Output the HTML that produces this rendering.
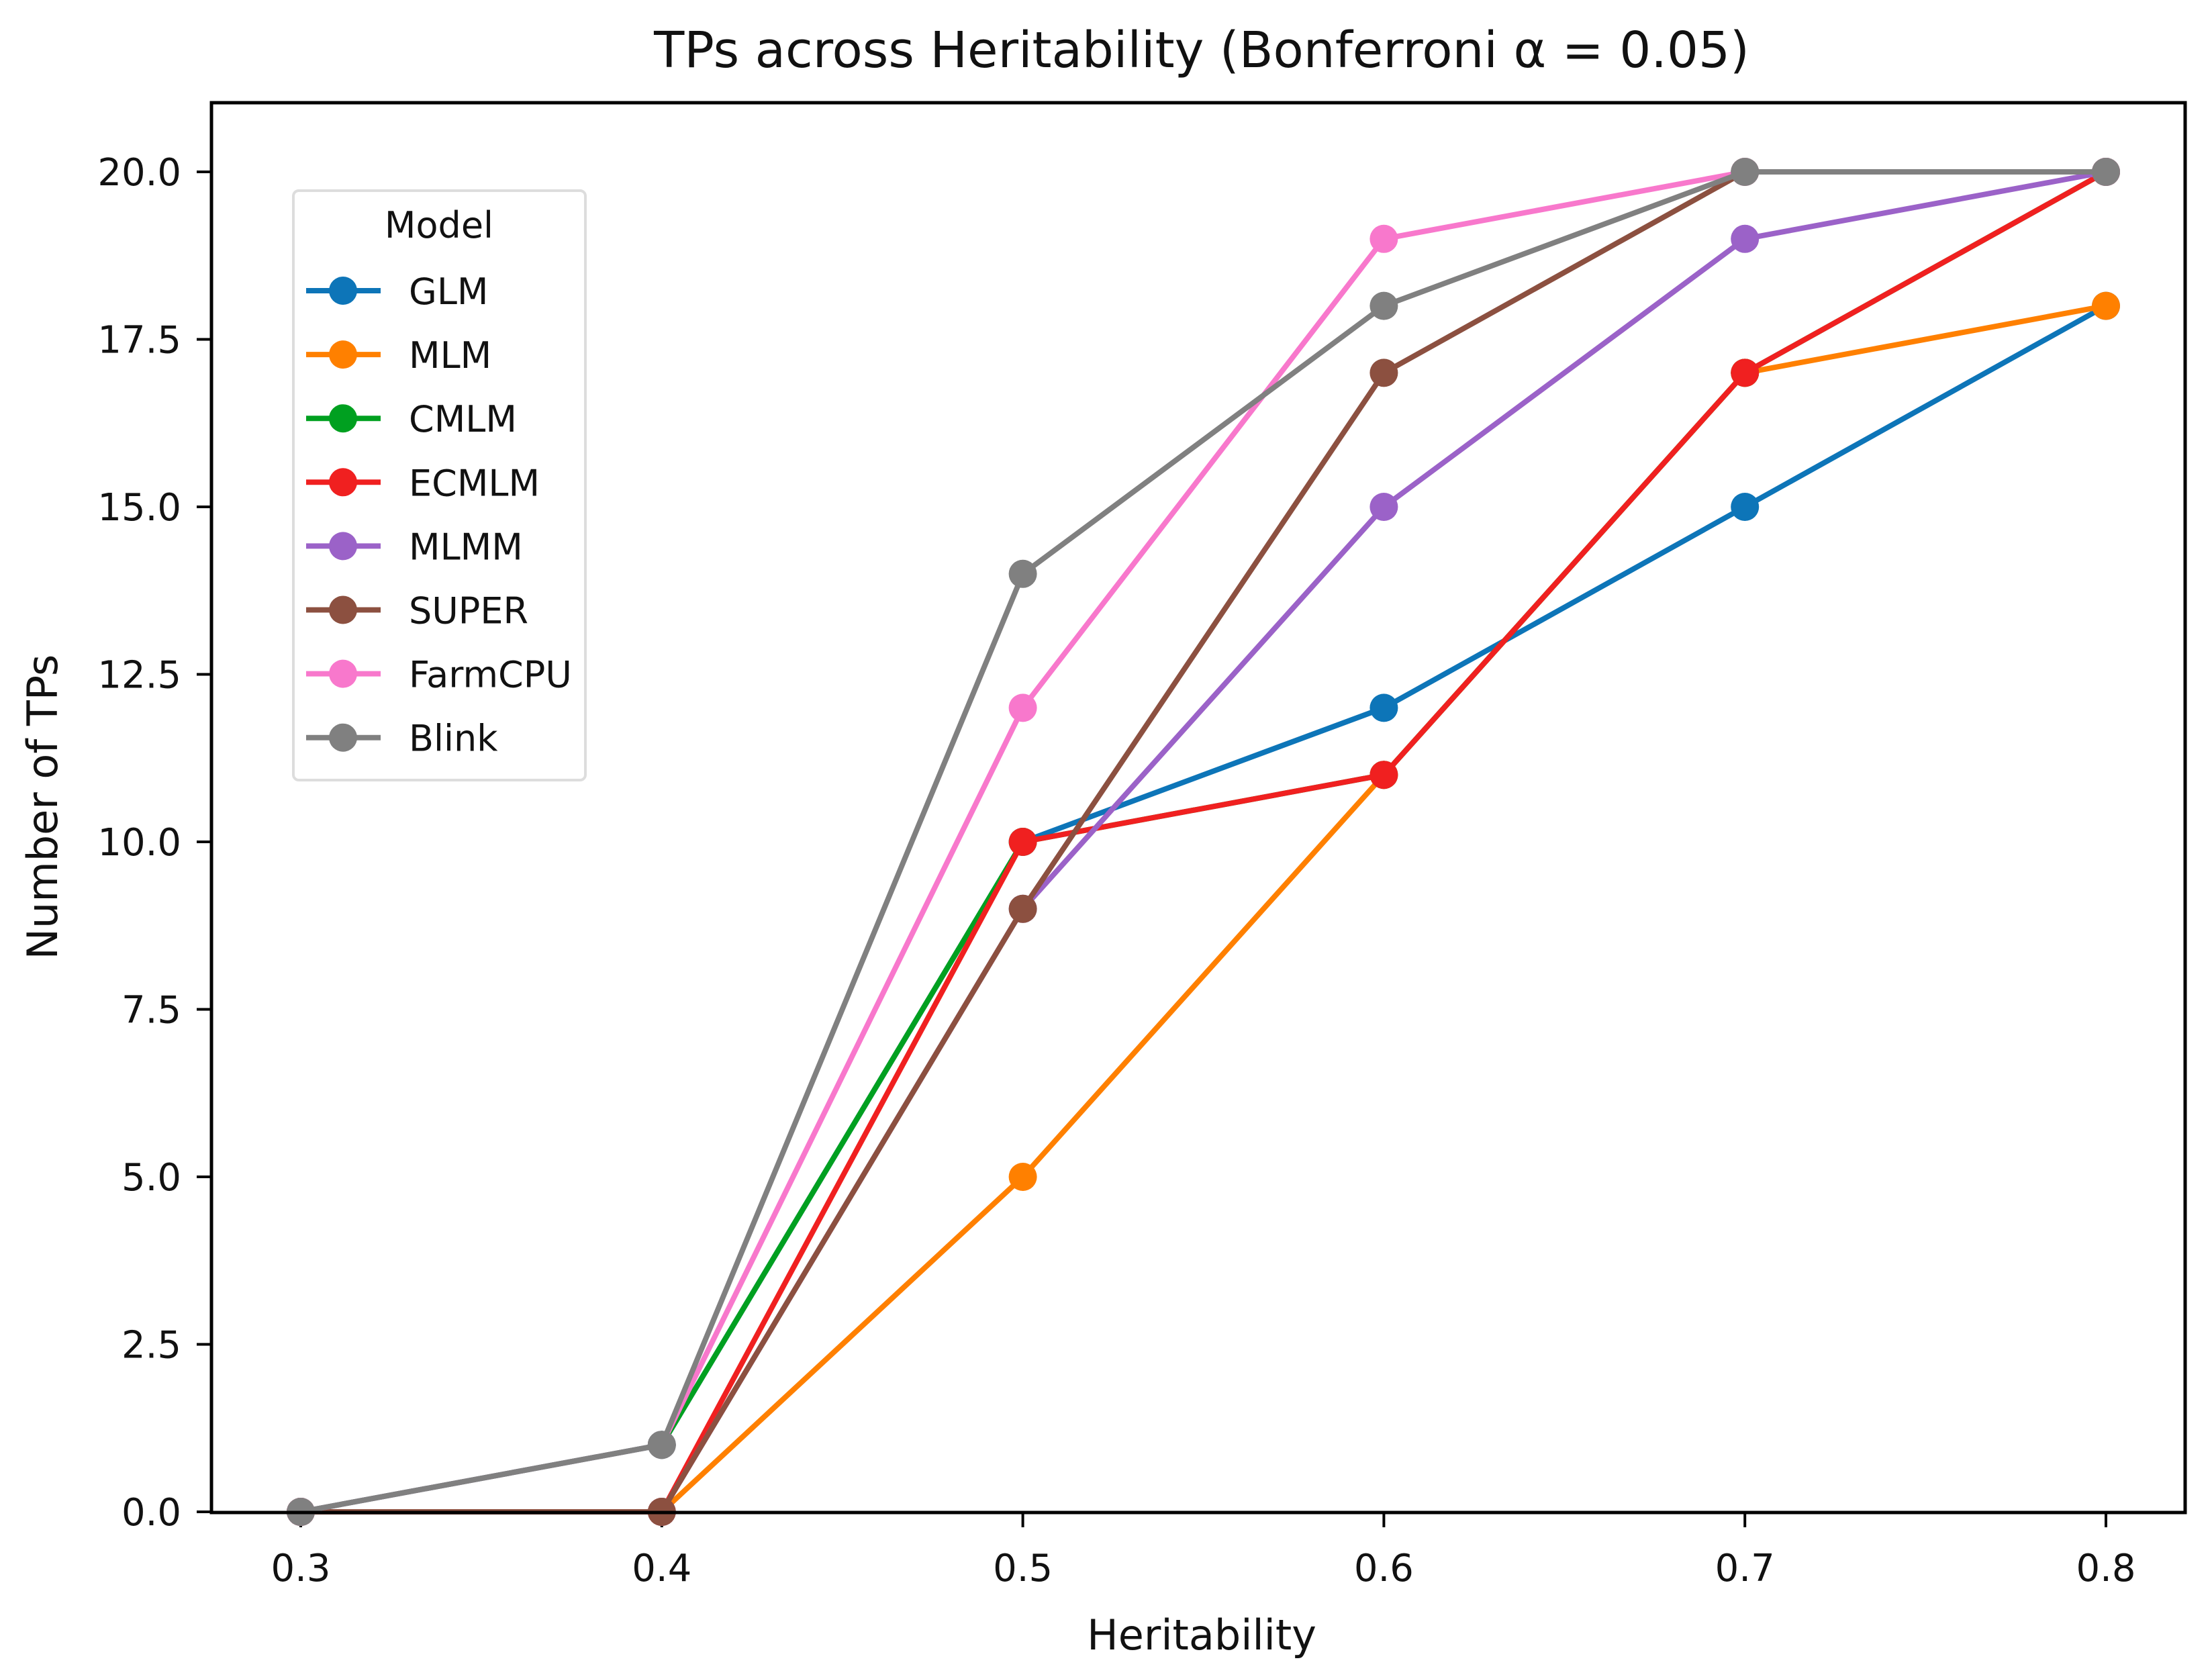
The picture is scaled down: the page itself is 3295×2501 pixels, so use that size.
<!DOCTYPE html>
<html><head><meta charset="utf-8"><style>
html,body{margin:0;padding:0;background:#fff;}
svg{display:block;font-family:"DejaVu Sans","Liberation Sans",sans-serif;}
</style></head><body>
<svg id="chart" width="3295" height="2501" viewBox="0 0 3295 2501" xmlns="http://www.w3.org/2000/svg">
<rect width="3295" height="2501" fill="#fff"/>
<text x="1790" y="100" font-size="74" text-anchor="middle" fill="#111">TPs across Heritability (Bonferroni α = 0.05)</text>
<g id="ticks"></g>
<g id="series"></g>
<rect x="315" y="153" width="2940" height="2100" fill="none" stroke="#000" stroke-width="5"/>
<text x="1790" y="2457" font-size="62" text-anchor="middle" fill="#111">Heritability</text>
<text x="0" y="0" font-size="62" text-anchor="middle" fill="#111" transform="translate(85,1202) rotate(-90)">Number of TPs</text>
<g id="legend"></g>
</svg>
<script>
const categories = [0.3, 0.4, 0.5, 0.6, 0.7, 0.8];
const xTickLabels = ["0.3","0.4","0.5","0.6","0.7","0.8"];
const yTicks = [0, 2.5, 5, 7.5, 10, 12.5, 15, 17.5, 20];
const yTickLabels = ["0.0","2.5","5.0","7.5","10.0","12.5","15.0","17.5","20.0"];
const seriesNames = ["GLM","MLM","CMLM","ECMLM","MLMM","SUPER","FarmCPU","Blink"];
const seriesColors = ["#0d75b8","#ff8000","#00a020","#f02020","#9b62c8","#8c5040","#f878cc","#808080"];
const glm = [0,1,10,12,15,18];
const mlm = [0,0,5,11,17,18];
const cmlm = [0,1,10,11,17,20];
const ecmlm = [0,0,10,11,17,20];
const mlmm = [0,0,9,15,19,20];
const superS = [0,0,9,17,20,20];
const farmcpu = [0,1,12,19,20,20];
const blink = [0,1,14,18,20,20];
const seriesValues = [glm, mlm, cmlm, ecmlm, mlmm, superS, farmcpu, blink];

const NS = "http://www.w3.org/2000/svg";
function xScale(v){ return 448 + (v - 0.3) / 0.5 * (3137 - 448); }
function yScale(v){ return 2252 - v / 20 * (2252 - 256); }
function mk(tag, attrs, parent){ const e = document.createElementNS(NS, tag); for (const k in attrs) e.setAttribute(k, attrs[k]); parent.appendChild(e); return e; }

const tg = document.getElementById('ticks');
categories.forEach((c, i) => {
  const x = xScale(c);
  const t = mk('line', {x1:x, x2:x, y1:2253, y2:2275, stroke:'#000', 'stroke-width':4}, tg);
  
  
  const l = mk('text', {x:x, y:2355, 'font-size':56, 'text-anchor':'middle', fill:'#111'}, tg);
  l.textContent = xTickLabels[i];
  
  
});
yTicks.forEach((v, i) => {
  const y = yScale(v);
  const t = mk('line', {x1:293, x2:315, y1:y, y2:y, stroke:'#000', 'stroke-width':4}, tg);
  
  
  const l = mk('text', {x:270, y:y + 20, 'font-size':56, 'text-anchor':'end', fill:'#111'}, tg);
  l.textContent = yTickLabels[i];
  
  
});

const sg = document.getElementById('series');
seriesValues.forEach((vals, si) => {
  const g = mk('g', {}, sg);
  
  
  const pts = vals.map((v, i) => xScale(categories[i]) + ',' + yScale(v)).join(' ');
  const pl = mk('polyline', {points:pts, fill:'none', stroke:seriesColors[si], 'stroke-width':8, 'stroke-linejoin':'round'}, g);
  
  
  vals.forEach((v, i) => {
    const c = mk('circle', {cx:xScale(categories[i]), cy:yScale(v), r:21, fill:seriesColors[si]}, g);
    
    
  });
});

const lg = document.getElementById('legend');
const box = mk('rect', {x:437, y:284, width:435, height:878, rx:8, fill:'#fff', stroke:'#ddd', 'stroke-width':4}, lg);


const lt = mk('text', {x:654, y:354, 'font-size':54, 'text-anchor':'middle', fill:'#111'}, lg);
lt.textContent = 'Model';


seriesNames.forEach((n, i) => {
  const y = 433 + i * 95.1;
  const e = mk('g', {}, lg);
  
  
  mk('line', {x1:456, x2:567, y1:y, y2:y, stroke:seriesColors[i], 'stroke-width':8}, e);
  mk('circle', {cx:511, cy:y, r:21, fill:seriesColors[i]}, e);
  const t = mk('text', {x:609, y:y + 20, 'font-size':54, fill:'#111'}, e);
  t.textContent = n;
});
</script>
</body></html>
